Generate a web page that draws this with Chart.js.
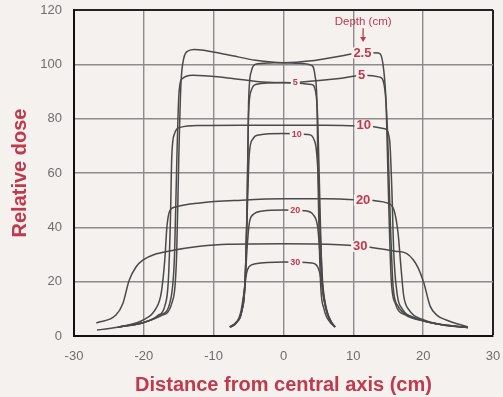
<!DOCTYPE html>
<html>
<head>
<meta charset="utf-8">
<script src="https://cdn.jsdelivr.net/npm/chart.js@4/dist/chart.umd.min.js"></script>
<style>
  html, body { margin: 0; padding: 0; background: #f4f1ee; }
  #wrap { width: 503px; height: 397px; }
</style>
</head>
<body>
<div id="wrap"><canvas id="profiles"></canvas></div>
<script>
// large field profiles (x in cm, relative dose)
const big25X = [-23.7, -20, -17.5, -16, -15.3, -15.0, -14.7, -14.3, -13.6, -12.8, -8, -4, 0, 4, 8, 11.5, 13.6, 14.3, 14.7, 15.0, 15.4, 16, 17.5, 20, 23, 26.4];
const big25Y = [3.3, 5, 7.5, 12, 30, 65, 92, 102, 105, 105.5, 103.5, 101.5, 100.6, 101.3, 103, 104.4, 104.2, 99, 85, 55, 22, 12, 7.7, 5.5, 4, 3.1];
const big5X = [-23.7, -20, -17.5, -16.2, -15.6, -15.3, -15.0, -14.6, -13, -8, -3, 0, 3, 8, 11.5, 13.8, 14.5, 14.9, 15.3, 15.7, 16.4, 18, 21, 26.4];
const big5Y = [3.3, 5, 7.8, 13, 30, 62, 88, 94.5, 96, 95, 93.5, 93.2, 93.6, 94.8, 96, 95.3, 91, 75, 42, 18, 11, 7.5, 5, 3.1];
const big10X = [-23.7, -20, -18, -17, -16.5, -16.2, -16.0, -15.6, -14.8, -12, -6, 0, 6, 11.5, 14.5, 15.2, 15.5, 15.8, 16.3, 17, 19, 22, 26.4];
const big10Y = [3.3, 5, 7.5, 11, 20, 42, 66, 74.5, 76.8, 77.5, 77.6, 77.6, 77.6, 77.3, 76.3, 72, 55, 30, 15, 10, 6.5, 4.5, 3.1];
const big20X = [-26.7, -23, -20, -18.3, -17.5, -17.0, -16.7, -16.3, -15.5, -12, -6, 0, 6, 11.5, 14.8, 15.8, 16.4, 16.8, 17.2, 18, 20, 23, 26.4];
const big20Y = [2.2, 3.6, 6, 10, 16, 28, 40, 46, 47.5, 49, 50, 50.5, 50.5, 50, 49, 46.5, 38, 26, 15, 9.5, 6, 4, 3.1];
const big30X = [-26.8, -24, -23, -22.1, -21.1, -20.1, -18.5, -16.5, -12, -8, 0, 8, 11, 13.3, 16, 17.6, 18.6, 19.3, 20.1, 21, 22, 23.3, 26.4];
const big30Y = [4.8, 7.7, 12, 20.5, 25.5, 28, 30, 31.2, 33, 33.8, 34, 33.6, 33, 32.3, 31.2, 30.4, 28, 25, 19.5, 11, 7.6, 5.9, 3.3];

// small field profiles
const small25X = [-7.7, -6.8, -6.0, -5.5, -5.2, -5.0, -4.6, -4, -2, 0, 2, 4, 4.5, 4.8, 5.0, 5.3, 5.8, 6.6, 7.4];
const small25Y = [3.3, 5, 9, 20, 50, 86, 97.5, 100, 100.5, 100.6, 100.4, 99.6, 96, 85, 50, 20, 10, 5.3, 3.3];
const small5X = [-7.7, -6.8, -6.0, -5.5, -5.2, -5.0, -4.6, -4, 0, 4, 4.6, 4.9, 5.2, 5.5, 6.0, 6.7, 7.4];
const small5Y = [3.3, 5, 9, 20, 50, 82, 90.5, 92.6, 93.3, 92.6, 90, 80, 50, 22, 11, 5.5, 3.3];
const small10X = [-7.6, -6.7, -6.0, -5.5, -5.2, -4.9, -4.4, -3.5, 0, 3.5, 4.5, 4.9, 5.2, 5.6, 6.1, 6.8, 7.4];
const small10Y = [3.3, 5, 9, 20, 45, 67, 72.5, 74, 74.5, 74.2, 71.5, 62, 42, 20, 10.5, 5.3, 3.3];
const small20X = [-7.6, -6.7, -6.0, -5.5, -5.2, -4.9, -4.3, -3, 0, 3, 4.3, 4.9, 5.2, 5.6, 6.1, 6.8, 7.4];
const small20Y = [3.3, 5, 9, 20, 33, 41.5, 44.8, 46, 46.4, 46.1, 44.5, 40, 31, 18, 10, 5.3, 3.3];
const small30X = [-7.5, -6.7, -6.1, -5.6, -5.3, -4.9, -4, 0, 4, 4.9, 5.3, 5.7, 6.2, 6.9, 7.4];
const small30Y = [3.3, 5, 9, 17, 23, 25.6, 26.6, 27.2, 26.9, 25.4, 22, 15, 9, 5, 3.3];

// depth labels drawn over the curves
const labelText = ["2.5", "5", "10", "20", "30", "5", "10", "20", "30"];
const labelX = [11.3, 11.2, 11.5, 11.4, 11.0, 1.7, 1.9, 1.7, 1.7];
const labelY = [104.2, 95.8, 77.5, 50.0, 33.0, 93.3, 74.3, 46.3, 27.2];
const labelBig = [true, true, true, true, true, false, false, false, false];

const xTicks = [-30, -20, -10, 0, 10, 20, 30];
const yTicks = [0, 20, 40, 60, 80, 100, 120];

const RED = "#c0394d";
const BG = "#f4f1ee";
const FONT = "'Liberation Sans', Arial";

function pts(xs, ys) {
  return xs.map((x, i) => ({ x, y: ys[i] }));
}

const curves = [
  [big25X, big25Y], [big5X, big5Y], [big10X, big10Y], [big20X, big20Y], [big30X, big30Y],
  [small25X, small25Y], [small5X, small5Y], [small10X, small10Y], [small20X, small20Y], [small30X, small30Y],
];

const datasets = curves.map(([xs, ys]) => ({
  data: pts(xs, ys),
  showLine: true,
  borderColor: "#4a4a4a",
  borderWidth: 1.5,
  pointRadius: 0,
  cubicInterpolationMode: "monotone",
}));

const bgPlugin = {
  id: "bg",
  beforeDraw(chart) {
    const { ctx } = chart;
    ctx.save();
    ctx.fillStyle = BG;
    ctx.fillRect(0, 0, chart.width, chart.height);
    ctx.restore();
  },
};

const labelPlugin = {
  id: "depthLabels",
  afterDatasetsDraw(chart) {
    const { ctx, scales: { x, y } } = chart;
    ctx.save();
    ctx.textAlign = "center";
    ctx.textBaseline = "middle";
    labelText.forEach((t, i) => {
      const px = x.getPixelForValue(labelX[i]);
      const py = y.getPixelForValue(labelY[i]);
      ctx.font = labelBig[i] ? `bold 13px ${FONT}` : `bold 9px ${FONT}`;
      const w = ctx.measureText(t).width;
      const h = labelBig[i] ? 11 : 8;
      ctx.fillStyle = BG;
      ctx.fillRect(px - w / 2 - 2, py - h / 2, w + 4, h);
      ctx.fillStyle = RED;
      ctx.fillText(t, px, py);
    });

    // "Depth (cm)" caption with arrow
    const ax = x.getPixelForValue(11.4);
    ctx.font = `11.5px ${FONT}`;
    ctx.fillText("Depth (cm)", ax, y.getPixelForValue(115.5));
    const y0 = y.getPixelForValue(113.3);
    const y1 = y.getPixelForValue(108.6);
    ctx.strokeStyle = RED;
    ctx.lineWidth = 1.3;
    ctx.beginPath();
    ctx.moveTo(ax, y0);
    ctx.lineTo(ax, y1 - 2);
    ctx.stroke();
    ctx.beginPath();
    ctx.moveTo(ax - 3, y1 - 4);
    ctx.lineTo(ax + 3, y1 - 4);
    ctx.lineTo(ax, y1 + 1);
    ctx.closePath();
    ctx.fill();
    ctx.restore();
  },
};

new Chart(document.getElementById("profiles"), {
  type: "scatter",
  data: { datasets },
  plugins: [bgPlugin, labelPlugin],
  options: {
    responsive: true,
    maintainAspectRatio: false,
    animation: false,
    layout: { padding: { top: 10, right: 10, left: 0, bottom: 0 } },
    plugins: { legend: { display: false }, tooltip: { enabled: false } },
    scales: {
      x: {
        type: "linear",
        min: -30,
        max: 30,
        afterBuildTicks: (s) => { s.ticks = xTicks.map(v => ({ value: v })); },
        afterFit: (s) => { s.height = 61; s.paddingLeft = 0; s.paddingRight = 0; },
        ticks: { color: "#6e6e6e", padding: 13, font: { size: 13, family: FONT } },
        grid: {
          drawTicks: false,
          color: (c) => (c.tick && c.tick.value === 30 ? "#222" : "#8c8c8c"),
          lineWidth: (c) => (c.tick && c.tick.value === 30 ? 2 : 1.4),
        },
        border: { color: "#111", width: 2 },
        title: {
          display: true,
          text: "Distance from central axis (cm)",
          color: RED,
          font: { size: 20, weight: "bold", family: FONT },
          padding: { top: 0, bottom: 0 },
        },
      },
      y: {
        min: 0,
        max: 120,
        afterBuildTicks: (s) => { s.ticks = yTicks.map(v => ({ value: v })); },
        afterFit: (s) => { s.width = 74; s.paddingTop = 0; s.paddingBottom = 0; },
        ticks: { color: "#6e6e6e", padding: 12, font: { size: 13, family: FONT } },
        grid: {
          drawTicks: false,
          color: (c) => (c.tick && c.tick.value === 120 ? "#222" : "#8c8c8c"),
          lineWidth: (c) => (c.tick && c.tick.value === 120 ? 2 : 1.4),
        },
        border: { color: "#111", width: 2 },
        title: {
          display: true,
          text: "Relative dose",
          color: RED,
          font: { size: 20, weight: "bold", family: FONT },
          padding: { top: 8, bottom: 0 },
        },
      },
    },
  },
});
</script>
</body>
</html>
